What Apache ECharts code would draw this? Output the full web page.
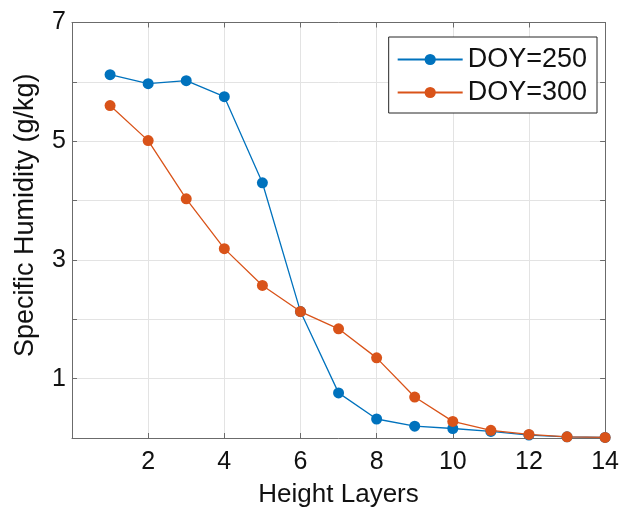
<!DOCTYPE html>
<html>
<head>
<meta charset="utf-8">
<script src="https://cdn.jsdelivr.net/npm/echarts@6/dist/echarts.min.js"></script>
<style>
html,body{margin:0;padding:0;background:#fff;}
#c{width:622px;height:513px;}
</style>
</head>
<body>
<div id="c"></div>
<script>
var layers = [1,2,3,4,5,6,7,8,9,10,11,12,13,14];
var doy250 = [6.12,5.97,6.02,5.75,4.30,2.13,0.76,0.32,0.20,0.16,0.11,0.05,0.02,0.01];
var doy300 = [5.60,5.01,4.03,3.19,2.57,2.13,1.84,1.35,0.69,0.28,0.13,0.06,0.02,0.01];
var seriesNames = ['DOY=250','DOY=300'];
var xTicks = [2,4,6,8,10,12,14];
var yTicks = [1,3,5,7];

var FONT = 'Liberation Sans, Arial, sans-serif';
var axisCol = '#6b6b6b';
var gridCol = '#e3e3e3';
var txtCol = '#111';

function pairs(xs, ys){ return xs.map(function(x,i){return [x, ys[i]];}); }

var chart = echarts.init(document.getElementById('c'), null, {renderer:'canvas'});
chart.setOption({
  animation:false,
  backgroundColor:'#fff',
  textStyle:{fontFamily:FONT},
  grid:{left:72, right:13, top:22.5, bottom:72, containLabel:false},
  legend:{
    orient:'vertical', right:25, top:37,
    itemWidth:65, itemHeight:14, itemGap:6,
    padding:[9,10,7,8],
    backgroundColor:'#fff', borderColor:'#262626', borderWidth:1,
    textStyle:{fontFamily:FONT, fontSize:27, color:txtCol, lineHeight:27},
    data:seriesNames
  },
  xAxis:[{
    type:'value', min:0, max:14, interval:2,
    name:'Height Layers', nameLocation:'middle', nameGap:44,
    nameTextStyle:{fontFamily:FONT, fontSize:26, color:txtCol},
    axisLine:{show:true, onZero:false, lineStyle:{color:axisCol, width:1}},
    axisTick:{show:true, inside:true, length:5, lineStyle:{color:axisCol}},
    axisLabel:{fontFamily:FONT, fontSize:25, color:txtCol, margin:12,
      formatter:function(v){ return xTicks.indexOf(v) >= 0 ? String(v) : ''; }},
    splitLine:{show:true, lineStyle:{color:gridCol, width:1}}
  },{
    type:'value', position:'top', min:0, max:14, interval:2,
    axisLine:{show:true, onZero:false, lineStyle:{color:axisCol, width:1}},
    axisTick:{show:true, inside:true, length:5, lineStyle:{color:axisCol}},
    axisLabel:{show:false}, splitLine:{show:false}
  }],
  yAxis:[{
    type:'value', min:0, max:7, interval:1,
    name:'Specific Humidity (g/kg)', nameLocation:'middle', nameGap:33,
    nameTextStyle:{fontFamily:FONT, fontSize:27, color:txtCol, padding:[0,0,0,30]},
    axisLine:{show:true, onZero:false, lineStyle:{color:axisCol, width:1}},
    axisTick:{show:true, inside:true, length:5, lineStyle:{color:axisCol}},
    axisLabel:{fontFamily:FONT, fontSize:25, color:txtCol, margin:6,
      formatter:function(v){ return yTicks.indexOf(v) >= 0 ? String(v) : ''; }},
    splitLine:{show:true, lineStyle:{color:gridCol, width:1}}
  },{
    type:'value', position:'right', min:0, max:7, interval:1,
    axisLine:{show:true, onZero:false, lineStyle:{color:axisCol, width:1}},
    axisTick:{show:true, inside:true, length:5, lineStyle:{color:axisCol}},
    axisLabel:{show:false}, splitLine:{show:false}
  }],
  series:[{
    name:seriesNames[0], type:'line', data:pairs(layers, doy250),
    color:'#0072BD', symbol:'circle', symbolSize:11,
    lineStyle:{width:1.3, color:'#0072BD'}, itemStyle:{color:'#0072BD'}, z:3
  },{
    name:seriesNames[1], type:'line', data:pairs(layers, doy300),
    color:'#D95319', symbol:'circle', symbolSize:11,
    lineStyle:{width:1.3, color:'#D95319'}, itemStyle:{color:'#D95319'}, z:4
  }]
});
</script>
</body>
</html>
